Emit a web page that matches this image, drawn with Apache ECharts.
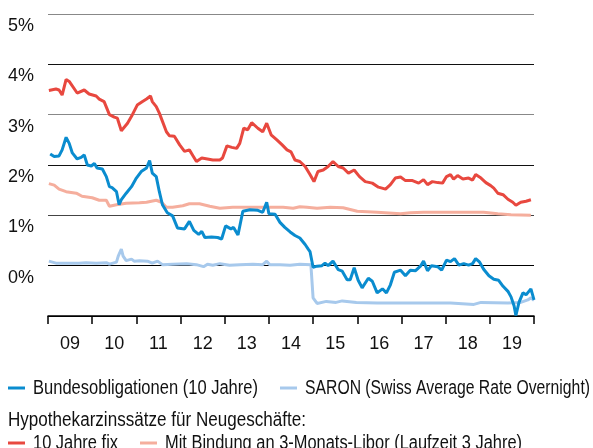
<!DOCTYPE html>
<html>
<head>
<meta charset="utf-8">
<script src="https://cdn.jsdelivr.net/npm/echarts@6/dist/echarts.min.js"></script>
<style>
  html, body { margin: 0; padding: 0; background: #fff; }
  #chart { width: 593px; height: 448px; }
</style>
</head>
<body>
<div id="chart"></div>
<script>
// year labels under the x axis
const years = ["09", "10", "11", "12", "13", "14", "15", "16", "17", "18", "19"];

// [decimal year, percent]
const bund10 = [
  [2009.05, 2.22], [2009.14, 2.17], [2009.25, 2.18], [2009.32, 2.30], [2009.41, 2.55],
  [2009.48, 2.43], [2009.55, 2.24], [2009.66, 2.12], [2009.75, 2.15], [2009.82, 2.20],
  [2009.89, 2.00], [2009.98, 1.98], [2010.05, 2.03], [2010.11, 1.94], [2010.23, 1.92],
  [2010.32, 1.77], [2010.39, 1.57], [2010.45, 1.55], [2010.55, 1.47], [2010.61, 1.21],
  [2010.66, 1.31], [2010.77, 1.44], [2010.89, 1.57], [2011.00, 1.74], [2011.11, 1.87],
  [2011.23, 1.94], [2011.30, 2.09], [2011.36, 1.84], [2011.45, 1.77], [2011.52, 1.47],
  [2011.59, 1.21], [2011.70, 1.05], [2011.82, 0.99], [2011.93, 0.75], [2012.09, 0.73],
  [2012.20, 0.88], [2012.30, 0.70], [2012.41, 0.62], [2012.48, 0.68], [2012.55, 0.56],
  [2012.70, 0.57], [2012.84, 0.56], [2012.93, 0.53], [2013.02, 0.79], [2013.14, 0.73],
  [2013.20, 0.76], [2013.30, 0.61], [2013.41, 1.08], [2013.57, 1.11], [2013.75, 1.10],
  [2013.86, 1.06], [2013.95, 1.26], [2014.00, 1.03], [2014.14, 1.02], [2014.25, 0.86],
  [2014.36, 0.76], [2014.48, 0.67], [2014.59, 0.60], [2014.70, 0.55], [2014.82, 0.42],
  [2014.89, 0.33], [2014.93, 0.28], [2015.00, -0.03], [2015.09, -0.01], [2015.20, 0.00],
  [2015.27, 0.05], [2015.34, 0.00], [2015.45, 0.09], [2015.57, -0.08], [2015.66, -0.11],
  [2015.77, -0.28], [2015.84, -0.28], [2015.93, -0.04], [2016.02, -0.29], [2016.11, -0.44],
  [2016.25, -0.25], [2016.34, -0.31], [2016.45, -0.54], [2016.57, -0.46], [2016.66, -0.54],
  [2016.75, -0.38], [2016.84, -0.13], [2016.98, -0.09], [2017.09, -0.20], [2017.20, -0.09],
  [2017.32, -0.10], [2017.43, -0.01], [2017.50, 0.09], [2017.59, -0.10], [2017.68, 0.00],
  [2017.82, -0.02], [2017.91, -0.09], [2018.02, 0.11], [2018.11, 0.08], [2018.20, 0.14],
  [2018.30, 0.01], [2018.41, 0.04], [2018.52, 0.01], [2018.61, 0.04], [2018.68, 0.14],
  [2018.77, 0.07], [2018.86, -0.07], [2018.98, -0.20], [2019.09, -0.27], [2019.20, -0.29],
  [2019.30, -0.41], [2019.41, -0.51], [2019.48, -0.62], [2019.55, -0.80], [2019.59, -0.99],
  [2019.66, -0.73], [2019.75, -0.54], [2019.82, -0.58], [2019.93, -0.46], [2020.00, -0.68]
];

const saron = [
  [2009.02, 0.09], [2009.18, 0.05], [2009.41, 0.05], [2009.70, 0.05], [2009.86, 0.06],
  [2010.09, 0.05], [2010.32, 0.06], [2010.39, 0.03], [2010.55, 0.07], [2010.59, 0.19],
  [2010.66, 0.33], [2010.70, 0.19], [2010.77, 0.10], [2010.89, 0.13], [2010.95, 0.09],
  [2011.07, 0.10], [2011.25, 0.09], [2011.36, 0.05], [2011.48, 0.09], [2011.59, 0.02],
  [2011.82, 0.03], [2012.14, 0.04], [2012.36, 0.02], [2012.52, -0.02], [2012.61, 0.03],
  [2012.73, 0.01], [2012.89, 0.04], [2013.11, 0.01], [2013.34, 0.02], [2013.64, 0.03],
  [2013.86, 0.02], [2013.95, 0.09], [2014.02, 0.02], [2014.25, 0.02], [2014.48, 0.01],
  [2014.70, 0.03], [2014.95, 0.02], [2015.00, -0.64], [2015.09, -0.75], [2015.30, -0.71],
  [2015.52, -0.73], [2015.66, -0.70], [2015.98, -0.73], [2016.45, -0.74], [2017.14, -0.74],
  [2018.11, -0.74], [2018.64, -0.77], [2018.80, -0.73], [2019.41, -0.74], [2019.70, -0.73],
  [2019.86, -0.68], [2019.93, -0.64], [2020.00, -0.69]
];

const fix10 = [
  [2009.02, 3.48], [2009.18, 3.51], [2009.25, 3.49], [2009.32, 3.39], [2009.41, 3.70],
  [2009.48, 3.66], [2009.66, 3.43], [2009.82, 3.49], [2009.93, 3.41], [2010.09, 3.37],
  [2010.16, 3.31], [2010.27, 3.26], [2010.39, 3.00], [2010.50, 2.95], [2010.57, 2.93],
  [2010.66, 2.68], [2010.80, 2.83], [2010.91, 3.00], [2011.02, 3.19], [2011.14, 3.26],
  [2011.23, 3.31], [2011.32, 3.37], [2011.36, 3.26], [2011.45, 3.16], [2011.52, 3.03],
  [2011.68, 2.66], [2011.75, 2.58], [2011.86, 2.57], [2011.98, 2.40], [2012.09, 2.27],
  [2012.20, 2.30], [2012.27, 2.20], [2012.36, 2.07], [2012.48, 2.14], [2012.61, 2.12],
  [2012.73, 2.10], [2012.89, 2.10], [2012.95, 2.14], [2013.05, 2.38], [2013.16, 2.35],
  [2013.27, 2.33], [2013.34, 2.43], [2013.43, 2.73], [2013.52, 2.70], [2013.61, 2.84],
  [2013.75, 2.73], [2013.86, 2.66], [2013.95, 2.83], [2014.05, 2.60], [2014.18, 2.50],
  [2014.30, 2.40], [2014.41, 2.30], [2014.50, 2.26], [2014.59, 2.10], [2014.70, 2.07],
  [2014.82, 1.97], [2014.93, 1.81], [2015.02, 1.67], [2015.11, 1.87], [2015.23, 1.90],
  [2015.34, 1.97], [2015.45, 2.07], [2015.57, 1.97], [2015.68, 1.94], [2015.80, 1.84],
  [2015.93, 1.90], [2016.05, 1.77], [2016.18, 1.67], [2016.34, 1.64], [2016.48, 1.56],
  [2016.64, 1.52], [2016.75, 1.61], [2016.86, 1.74], [2016.98, 1.76], [2017.09, 1.69],
  [2017.25, 1.69], [2017.39, 1.64], [2017.50, 1.71], [2017.59, 1.61], [2017.70, 1.67],
  [2017.82, 1.65], [2017.93, 1.64], [2018.02, 1.77], [2018.11, 1.81], [2018.18, 1.72],
  [2018.27, 1.79], [2018.39, 1.72], [2018.52, 1.74], [2018.61, 1.70], [2018.68, 1.81],
  [2018.80, 1.74], [2018.91, 1.65], [2019.02, 1.59], [2019.09, 1.54], [2019.18, 1.44],
  [2019.30, 1.41], [2019.41, 1.32], [2019.52, 1.26], [2019.59, 1.20], [2019.70, 1.26],
  [2019.82, 1.28], [2019.93, 1.31]
];

const libor3 = [
  [2009.02, 1.63], [2009.14, 1.60], [2009.25, 1.52], [2009.41, 1.47], [2009.64, 1.44],
  [2009.77, 1.38], [2010.00, 1.35], [2010.16, 1.30], [2010.32, 1.30], [2010.39, 1.18],
  [2010.55, 1.21], [2010.77, 1.24], [2011.07, 1.25], [2011.23, 1.26], [2011.45, 1.30],
  [2011.57, 1.26], [2011.68, 1.16], [2011.82, 1.16], [2012.05, 1.19], [2012.20, 1.23],
  [2012.43, 1.23], [2012.66, 1.18], [2012.89, 1.14], [2013.18, 1.16], [2013.57, 1.16],
  [2013.95, 1.16], [2014.32, 1.16], [2014.55, 1.14], [2014.70, 1.17], [2014.86, 1.16],
  [2015.09, 1.14], [2015.39, 1.16], [2015.68, 1.15], [2016.00, 1.08], [2016.45, 1.06],
  [2016.98, 1.03], [2017.20, 1.05], [2017.50, 1.06], [2018.27, 1.06], [2018.86, 1.06],
  [2019.18, 1.03], [2019.48, 1.01], [2019.93, 1.00]
];

const legendHeader = "Hypothekarzinssätze für Neugeschäfte:";

const FONT = "'Liberation Sans', Arial, sans-serif";
const COL = { bund: "#0a8ccf", saron: "#a7c9ec", fix: "#e8483f", libor: "#f5ae9d" };

const legendRows = [
  [["Bundesobligationen (10 Jahre)", COL.bund], ["SARON (Swiss Average Rate Overnight)", COL.saron]],
  [["10 Jahre fix", COL.fix], ["Mit Bindung an 3-Monats-Libor (Laufzeit 3 Jahre)", COL.libor]]
];

// the original uses a condensed face; widths it takes on the page
const textWidth = {
  "Bundesobligationen (10 Jahre)": 225,
  "SARON (Swiss Average Rate Overnight)": 285,
  "10 Jahre fix": 85,
  "Mit Bindung an 3-Monats-Libor (Laufzeit 3 Jahre)": 357,
  [legendHeader]: 298
};

const ctx = document.createElement("canvas").getContext("2d");
const LEG_SIZE = 20;
ctx.font = LEG_SIZE + "px " + FONT;
const squeezeOf = t => textWidth[t] / ctx.measureText(t).width;

function legendGraphics() {
  const els = [];
  const rowY = [388, 443];
  legendRows.forEach((row, r) => {
    let x = 8;
    row.forEach(([name, color]) => {
      els.push({ type: "rect", shape: { x: x, y: rowY[r] - 1.5, width: 17, height: 3 }, style: { fill: color } });
      x += 25;
      els.push({
        type: "text", x: x, y: rowY[r], scaleX: squeezeOf(name),
        style: { text: name, font: LEG_SIZE + "px " + FONT, fill: "#111", textVerticalAlign: "middle" }
      });
      x += textWidth[name] + 22;
    });
  });
  els.push({
    type: "text", x: 8, y: 420, scaleX: squeezeOf(legendHeader),
    style: { text: legendHeader, font: LEG_SIZE + "px " + FONT, fill: "#111", textVerticalAlign: "middle" }
  });
  return els;
}

const chart = echarts.init(document.getElementById("chart"), null, { renderer: "canvas" });

const lineSeries = (name, data, color) => ({
  name,
  type: "line",
  data,
  showSymbol: false,
  symbol: "none",
  color,
  lineStyle: { width: 3, color },
  animation: false
});

const option = {
  backgroundColor: "#fff",
  textStyle: { fontFamily: FONT },
  grid: { left: 48, right: 59, top: 14, bottom: 132 },
  xAxis: [
    {
      type: "value",
      min: 2009,
      max: 2020,
      interval: 1,
      position: "bottom",
      axisLine: { onZero: false, lineStyle: { color: "#000", width: 1.5 } },
      axisTick: { show: true, length: 8, lineStyle: { color: "#000", width: 1.5 } },
      axisLabel: { show: false },
      splitLine: { show: false }
    },
    {
      type: "category",
      data: years,
      position: "bottom",
      boundaryGap: true,
      axisLine: { show: false, onZero: false },
      axisTick: { show: false },
      axisLabel: { margin: 19, fontSize: 18, color: "#111", fontFamily: FONT },
      splitLine: { show: false }
    }
  ],
  yAxis: {
    type: "value",
    min: -1,
    max: 5,
    interval: 1,
    axisLine: { show: false },
    axisTick: { show: false },
    axisLabel: {
      formatter: v => (v < 0 ? "" : v + "%"),
      align: "left",
      verticalAlign: "top",
      margin: 40,
      padding: [3, 0, 0, 0],
      fontSize: 18,
      color: "#111",
      fontFamily: FONT
    },
    splitLine: {
      lineStyle: {
        color: ["#000", "#000", "#444", "#111", "#888", "#111", "#888"],
        width: 1.2
      }
    }
  },
  graphic: legendGraphics(),
  series: [
    lineSeries("SARON (Swiss Average Rate Overnight)", saron, COL.saron),
    lineSeries("Mit Bindung an 3-Monats-Libor (Laufzeit 3 Jahre)", libor3, COL.libor),
    lineSeries("10 Jahre fix", fix10, COL.fix),
    lineSeries("Bundesobligationen (10 Jahre)", bund10, COL.bund)
  ]
};

chart.setOption(option);
</script>
</body>
</html>
